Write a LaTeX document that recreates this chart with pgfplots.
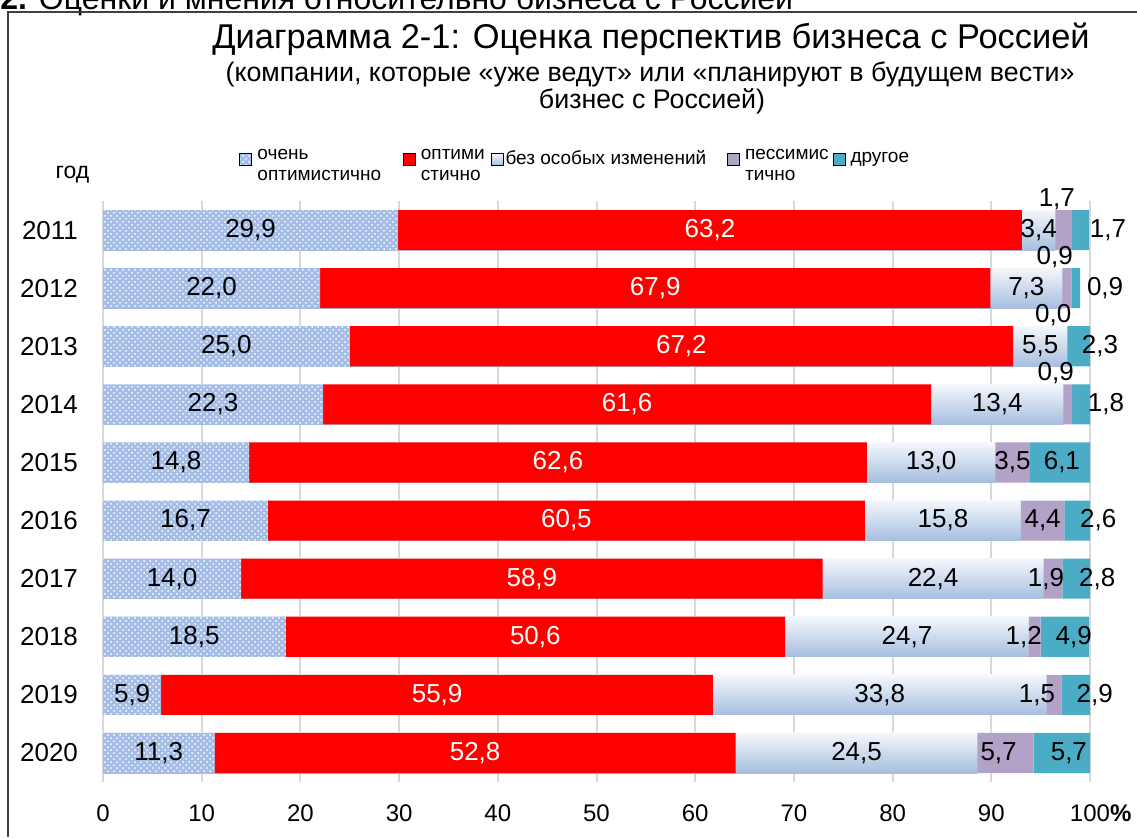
\documentclass[border=0pt]{standalone}
\usepackage{fontspec}
\setmainfont{Liberation Sans}
\usepackage{pgfplots}
\pgfplotsset{compat=1.18}
\usepackage{pgfplotstable}
\usetikzlibrary{patterns}

\definecolor{vred}{HTML}{FF0000}
\definecolor{pblue}{HTML}{A4BDE6}
\definecolor{gtop}{HTML}{F4F7FC}
\definecolor{gbot}{HTML}{A6BEDF}
\definecolor{lav}{HTML}{B3A2C7}
\definecolor{teal2}{HTML}{4BACC6}

% a..e: shares (%); dx, ex: label offsets (axis units)
\pgfplotstableread{
idx a b c d e dx ex
0 29.9 63.2 3.4 1.7 1.7 -0.71 1.93
1 22.0 67.9 7.3 0.9 0.9 -1.22 2.53
2 25.0 67.2 5.5 0.0 2.3 -1.42 1.01
3 22.3 61.6 13.4 0.9 1.8 -1.22 1.62
4 14.8 62.6 13.0 3.5 6.1 0 0.2
5 16.7 60.5 15.8 4.4 2.6 0 2.13
6 14.0 58.9 22.4 1.9 2.8 -0.71 2.13
7 18.5 50.6 24.7 1.2 4.9 -1.11 0.91
8 5.9 55.9 33.8 1.5 2.9 -1.72 1.93
9 11.3 52.8 24.5 5.7 5.7 -0.71 0.71
}\data

\pgfplotsset{
  common/.style={scale only axis, width=493.5pt, height=290.5pt,
    xmin=0, xmax=100, ymin=-0.5, ymax=9.5, y dir=reverse,
    at={(51.5pt,-391pt)}, anchor=south west},
  lbl/.style={draw=none, mark=none, point meta=explicit,
    nodes near coords={\pgfmathprintnumber[fixed,fixed zerofill,precision=1,use comma,assume math mode=true]{\pgfplotspointmeta}},
    every node near coord/.append style={font=\fontsize{13}{15}\selectfont, text=black, inner sep=0pt, anchor=center}},
}

\begin{document}
\begin{tikzpicture}
\useasboundingbox (0,0) rectangle (568.5pt,-418.5pt);
\node[anchor=base west, inner sep=0pt, font=\fontsize{16}{19}\selectfont] at (0pt,-4.8pt) {\textbf{2.} Оценки и мнения относительно бизнеса с Россией};
\draw[line width=0.75pt, black!75] (568.5pt,-6pt) -- (4pt,-6pt) -- (4pt,-418.5pt);
\node[anchor=base, inner sep=0pt, font=\fontsize{17.2}{20}\selectfont] at (325.5pt,-24pt) {Диаграмма 2-1: Оценка перспектив бизнеса с Россией};
\node[anchor=base, inner sep=0pt, font=\fontsize{13.4}{15}\selectfont] at (325pt,-40.5pt) {(компании, которые «уже ведут» или «планируют в будущем вести»};
\node[anchor=base, inner sep=0pt, font=\fontsize{13.4}{15}\selectfont] at (326pt,-54pt) {бизнес с Россией)};
\node[anchor=center, inner sep=0pt, font=\fontsize{11.5}{13}\selectfont] at (36.25pt,-87.5pt) {год};

% layer 1: grid, ticks and the shaded "без особых изменений" bars (one per row)
\begin{axis}[common,
  every axis plot/.append style={xbar, bar width=0.69, bar shift=0pt, draw=none, top color=gtop, bottom color=gbot},
  axis line style={draw=none}, major tick length=0pt,
  xmajorgrids, grid style={draw=black!15, line width=1pt},
  xtick={0,10,20,30,40,50,60,70,80,90,100},
  xticklabels={0,10,20,30,40,50,60,70,80,90,100\rlap{\textbf{\%}}},
  ytick={0,1,2,3,4,5,6,7,8,9},
  yticklabels={2011,2012,2013,2014,2015,2016,2017,2018,2019,2020},
  xticklabel style={font=\fontsize{12}{14}\selectfont, yshift=-8pt},
  yticklabel style={font=\fontsize{13}{15}\selectfont, xshift=-9pt},
]
\addplot[restrict y to domain=-0.1:0.1] table[x expr=\thisrow{a}+\thisrow{b}+\thisrow{c}, y=idx]{\data};
\addplot[restrict y to domain=0.9:1.1] table[x expr=\thisrow{a}+\thisrow{b}+\thisrow{c}, y=idx]{\data};
\addplot[restrict y to domain=1.9:2.1] table[x expr=\thisrow{a}+\thisrow{b}+\thisrow{c}, y=idx]{\data};
\addplot[restrict y to domain=2.9:3.1] table[x expr=\thisrow{a}+\thisrow{b}+\thisrow{c}, y=idx]{\data};
\addplot[restrict y to domain=3.9:4.1] table[x expr=\thisrow{a}+\thisrow{b}+\thisrow{c}, y=idx]{\data};
\addplot[restrict y to domain=4.9:5.1] table[x expr=\thisrow{a}+\thisrow{b}+\thisrow{c}, y=idx]{\data};
\addplot[restrict y to domain=5.9:6.1] table[x expr=\thisrow{a}+\thisrow{b}+\thisrow{c}, y=idx]{\data};
\addplot[restrict y to domain=6.9:7.1] table[x expr=\thisrow{a}+\thisrow{b}+\thisrow{c}, y=idx]{\data};
\addplot[restrict y to domain=7.9:8.1] table[x expr=\thisrow{a}+\thisrow{b}+\thisrow{c}, y=idx]{\data};
\addplot[restrict y to domain=8.9:9.1] table[x expr=\thisrow{a}+\thisrow{b}+\thisrow{c}, y=idx]{\data};
\end{axis}

% layer 2: stacked bars
\begin{axis}[common, hide axis, xbar stacked, bar width=0.69]
\addplot[draw=none, fill=pblue, postaction={pattern=crosshatch dots, pattern color=white}] table[x=a, y=idx]{\data};
\addplot[draw=none, fill=vred] table[x=b, y=idx]{\data};
\addplot[draw=none, fill=none] table[x=c, y=idx]{\data};
\addplot[draw=none, fill=lav] table[x=d, y=idx]{\data};
\addplot[draw=none, fill=teal2] table[x=e, y=idx]{\data};
\end{axis}

% layer 3: legend and value labels
\begin{axis}[common, hide axis, clip=false,
  legend columns=5, legend cell align=left,
  legend style={at={(0.4776,1.072)}, anchor=center, draw=none, fill=none,
    font=\fontsize{9.5}{10.5}\selectfont, nodes={inner sep=0.5pt},
    /tikz/column 1/.style={column sep=2.5pt},
    /tikz/column 2/.style={column sep=10.5pt},
    /tikz/column 3/.style={column sep=2pt},
    /tikz/column 4/.style={column sep=2.5pt},
    /tikz/column 5/.style={column sep=0.5pt},
    /tikz/column 6/.style={column sep=10pt},
    /tikz/column 7/.style={column sep=2pt},
    /tikz/column 8/.style={column sep=1.5pt},
    /tikz/column 9/.style={column sep=2pt}},
]
\addlegendimage{legend image code/.code={\fill[fill=pblue, postaction={pattern=crosshatch dots, pattern color=white}] (0pt,-3pt) rectangle (6pt,3pt);}}
\addlegendentry{\begin{tabular}{@{}l@{}}очень\\оптимистично\end{tabular}}
\addlegendimage{legend image code/.code={\fill[fill=vred] (0pt,-3pt) rectangle (6pt,3pt);}}
\addlegendentry{\begin{tabular}{@{}l@{}}оптими\\стично\end{tabular}}
\addlegendimage{legend image code/.code={\fill[top color=gtop, bottom color=gbot] (0pt,-3pt) rectangle (6pt,3pt);}}
\addlegendentry{без особых изменений}
\addlegendimage{legend image code/.code={\fill[fill=lav] (0pt,-3pt) rectangle (6pt,3pt);}}
\addlegendentry{\begin{tabular}{@{}l@{}}пессимис\\тично\end{tabular}}
\addlegendimage{legend image code/.code={\fill[fill=teal2] (0pt,-3pt) rectangle (6pt,3pt);}}
\addlegendentry{другое}

\addplot[lbl] table[x expr=\thisrow{a}/2, y=idx, meta=a]{\data};
\addplot[lbl, every node near coord/.append style={text=white}] table[x expr=\thisrow{a}+\thisrow{b}/2, y=idx, meta=b]{\data};
\addplot[lbl] table[x expr=\thisrow{a}+\thisrow{b}+\thisrow{c}/2, y=idx, meta=c]{\data};
\addplot[lbl, skip coords between index={0}{4}] table[x expr=\thisrow{a}+\thisrow{b}+\thisrow{c}+\thisrow{d}/2+\thisrow{dx}, y=idx, meta=d]{\data};
\addplot[lbl, skip coords between index={0}{4}] table[x expr=\thisrow{a}+\thisrow{b}+\thisrow{c}+\thisrow{d}+\thisrow{e}/2+\thisrow{ex}, y=idx, meta=e]{\data};
\addplot[lbl, skip coords between index={4}{10}, every node near coord/.append style={anchor=south}] table[x expr=\thisrow{a}+\thisrow{b}+\thisrow{c}+\thisrow{d}/2+\thisrow{dx}, y expr=\thisrow{idx}-0.345, meta=d]{\data};
\addplot[lbl, skip coords between index={4}{10}] table[x expr=\thisrow{a}+\thisrow{b}+\thisrow{c}+\thisrow{d}+\thisrow{e}+\thisrow{ex}, y=idx, meta=e]{\data};
\end{axis}
\end{tikzpicture}
\end{document}
